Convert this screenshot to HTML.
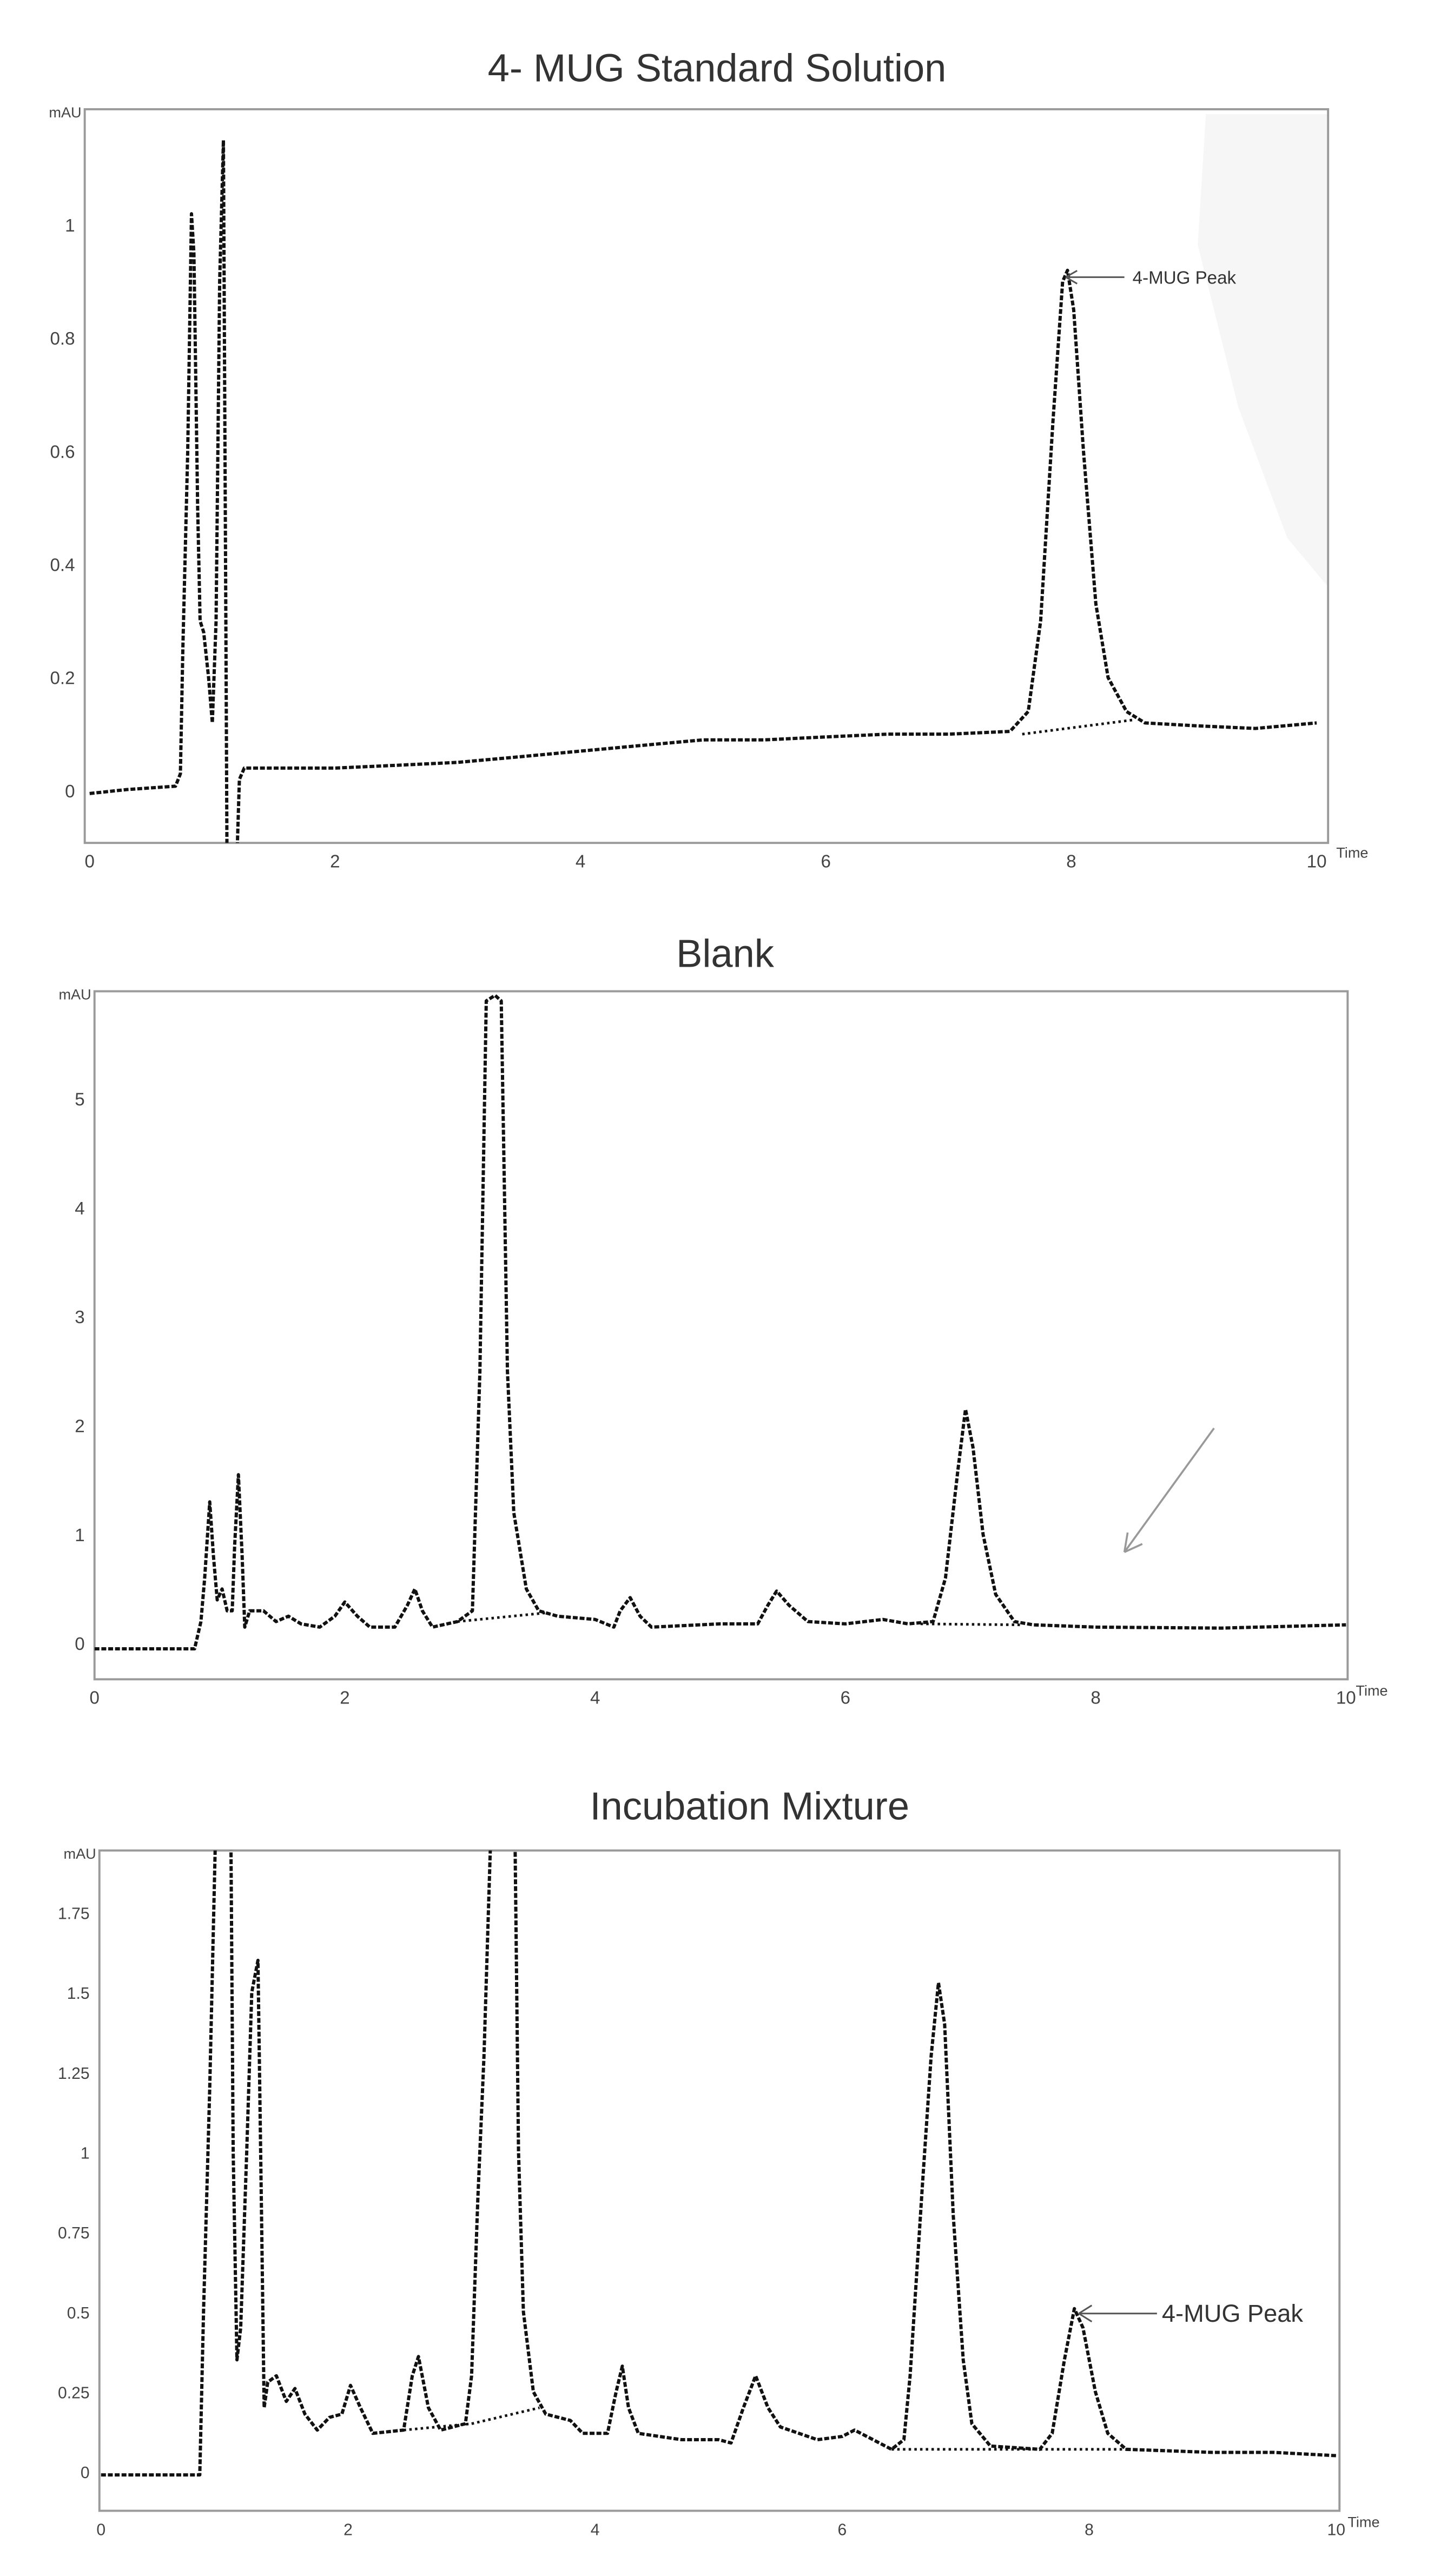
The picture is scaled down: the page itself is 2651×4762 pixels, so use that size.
<!DOCTYPE html>
<html><head><meta charset="utf-8"><title>HPLC chromatograms</title>
<style>
html,body{margin:0;padding:0;background:#fff;}
svg{display:block;}
text{font-family:"Liberation Sans",sans-serif;}
</style></head>
<body>
<svg id="fig" width="2651" height="4762" viewBox="0 0 880 1580" preserveAspectRatio="none" xmlns="http://www.w3.org/2000/svg">
<path d="M740,70 L815,70 L815,360 L790,330 L760,250 L735,150 Z" fill="#f6f6f6"/>
</svg>
<script>
// ---- Panel 1: 4-MUG Standard Solution ----
const p1Times = [0,0.3,0.7,0.74,0.76,0.8,0.83,0.85,0.88,0.9,0.93,0.97,1.0,1.03,1.06,1.09,1.11,1.12,1.2,1.22,1.26,1.5,2,2.5,3,3.5,4,4.5,5,5.5,6,6.5,7,7.5,7.65,7.75,7.85,7.93,7.97,8.02,8.1,8.2,8.3,8.45,8.6,9,9.5,10];
const p1Values = [-0.005,0.002,0.008,0.03,0.25,0.6,1.02,0.95,0.5,0.3,0.28,0.2,0.12,0.3,0.9,1.15,0.3,-0.12,-0.12,0.02,0.04,0.04,0.04,0.045,0.05,0.06,0.07,0.08,0.09,0.09,0.095,0.1,0.1,0.105,0.14,0.3,0.65,0.9,0.92,0.85,0.6,0.33,0.2,0.14,0.12,0.115,0.11,0.12];
const p1BaseTimes = [7.6,8.5];
const p1BaseValues = [0.1,0.125];
const p1YTicks = [0,0.2,0.4,0.6,0.8,1];
const p1YLabels = ["0","0.2","0.4","0.6","0.8","1"];
const p1XTicks = [0,2,4,6,8,10];

// ---- Panel 2: Blank ----
const p2Times = [0,0.8,0.85,0.88,0.92,0.95,0.98,1.02,1.06,1.1,1.12,1.15,1.18,1.2,1.24,1.35,1.45,1.55,1.65,1.8,1.92,2.0,2.1,2.2,2.4,2.5,2.56,2.62,2.7,2.9,3.02,3.08,3.13,3.2,3.25,3.3,3.35,3.45,3.55,3.7,4.0,4.15,4.2,4.28,4.36,4.45,5.0,5.3,5.38,5.45,5.55,5.7,6.0,6.3,6.5,6.7,6.8,6.9,6.96,7.02,7.1,7.2,7.35,7.5,8,9,10];
const p2Values = [-0.05,-0.05,0.2,0.6,1.3,0.8,0.4,0.5,0.3,0.3,0.9,1.55,0.8,0.15,0.3,0.3,0.2,0.25,0.18,0.15,0.25,0.38,0.25,0.15,0.15,0.35,0.5,0.3,0.15,0.2,0.3,2.5,5.9,5.95,5.9,2.5,1.2,0.5,0.3,0.25,0.22,0.15,0.3,0.42,0.25,0.15,0.18,0.18,0.35,0.48,0.35,0.2,0.18,0.22,0.18,0.2,0.6,1.6,2.15,1.8,1.0,0.45,0.2,0.17,0.15,0.14,0.17];
const p2BaseTimes = [2.9,3.6,6.6,7.4];
const p2BaseValues = [0.2,0.28,0.18,0.17];
const p2YTicks = [0,1,2,3,4,5];
const p2YLabels = ["0","1","2","3","4","5"];
const p2XTicks = [0,2,4,6,8,10];

// ---- Panel 3: Incubation Mixture ----
const p3Times = [0,0.8,0.83,0.88,0.93,1.05,1.07,1.1,1.13,1.18,1.22,1.27,1.3,1.32,1.35,1.42,1.5,1.57,1.65,1.75,1.85,1.95,2.02,2.1,2.2,2.45,2.52,2.57,2.65,2.75,2.95,3.0,3.05,3.1,3.16,3.35,3.38,3.42,3.5,3.6,3.8,3.9,4.1,4.17,4.22,4.27,4.35,4.7,5.0,5.1,5.2,5.3,5.4,5.5,5.8,6.0,6.1,6.25,6.4,6.5,6.55,6.65,6.72,6.78,6.83,6.9,6.98,7.05,7.2,7.6,7.7,7.8,7.88,7.95,8.05,8.15,8.3,9,9.5,10];
const p3Values = [-0.01,-0.01,0.5,1.2,2.05,2.05,1.0,0.35,0.45,1.0,1.5,1.6,0.8,0.2,0.28,0.3,0.22,0.26,0.18,0.13,0.17,0.18,0.27,0.2,0.12,0.13,0.3,0.36,0.2,0.13,0.15,0.3,0.85,1.3,2.05,2.05,1.0,0.5,0.25,0.18,0.16,0.12,0.12,0.25,0.33,0.2,0.12,0.1,0.1,0.09,0.2,0.3,0.2,0.14,0.1,0.11,0.13,0.1,0.07,0.1,0.3,0.9,1.3,1.53,1.4,0.8,0.35,0.15,0.08,0.07,0.12,0.35,0.51,0.45,0.25,0.12,0.07,0.06,0.06,0.05];
const p3BaseTimes = [2.45,3.0,3.0,3.55,6.4,8.3];
const p3BaseValues = [0.13,0.15,0.15,0.2,0.07,0.07];
const p3YTicks = [0,0.25,0.5,0.75,1,1.25,1.5,1.75];
const p3YLabels = ["0","0.25","0.5","0.75","1","1.25","1.5","1.75"];
const p3XTicks = [0,2,4,6,8,10];

const NS = "http://www.w3.org/2000/svg";
const svg = document.getElementById('fig');
function mk(tag, attrs, parent){
  const e = document.createElementNS(NS, tag);
  for (const k in attrs) e.setAttribute(k, attrs[k]);
  (parent||svg).appendChild(e);
  return e;
}

function panel(cfg){
  const g = mk('g', {});
  
  
  const xs = t => cfg.x0 + (t - 0) * (cfg.x10 - cfg.x0) / 10;
  const ys = v => cfg.yZero - v * cfg.yPerUnit;
  const t = mk('text', {x: cfg.titleX, y: cfg.titleY, 'font-size': 24, fill: '#333', 'text-anchor': 'middle'}, g);
  t.textContent = cfg.title;
  
  
  const f = mk('rect', {x: cfg.L, y: cfg.T, width: cfg.R - cfg.L, height: cfg.B - cfg.T, fill: 'none', stroke: '#9a9a9a', 'stroke-width': 1.3}, g);
  
  
  const u = mk('text', {x: cfg.L - 2, y: cfg.T + 5, 'font-size': 9, fill: '#444', 'text-anchor': 'end'}, g);
  u.textContent = cfg.unit;
  
  
  cfg.yTicks.forEach((v, i) => {
    const tx = mk('text', {x: cfg.L - 6, y: ys(v) + 4, 'font-size': cfg.tickSize, fill: '#444', 'text-anchor': 'end'}, g);
    tx.textContent = cfg.yLabels[i];
    
    
  });
  cfg.xTicks.forEach(v => {
    const tx = mk('text', {x: xs(v), y: cfg.B + 15, 'font-size': cfg.tickSize, fill: '#444', 'text-anchor': 'middle'}, g);
    tx.textContent = String(v);
    
    
  });
  const tl = mk('text', {x: cfg.R + 5, y: cfg.timeY, 'font-size': 9, fill: '#444'}, g);
  tl.textContent = 'Time';
  
  
  const cid = 'clip-' + cfg.name;
  const cp = mk('clipPath', {id: cid}, g);
  mk('rect', {x: cfg.L, y: cfg.T, width: cfg.R - cfg.L, height: cfg.B - cfg.T}, cp);
  let d = '';
  cfg.bt.forEach((tt, i) => { d += (i % 2 ? 'L' : 'M') + xs(tt).toFixed(1) + ',' + ys(cfg.bv[i]).toFixed(1); });
  const bl = mk('path', {d: d, fill: 'none', stroke: '#111', 'stroke-width': 1.6, 'stroke-dasharray': '1.5 2', 'clip-path': 'url(#' + cid + ')'}, g);
  
  
  const pts = cfg.times.map((tt, i) => xs(tt).toFixed(1) + ',' + ys(cfg.values[i]).toFixed(1)).join(' ');
  const tr = mk('polyline', {points: pts, fill: 'none', stroke: '#111', 'stroke-width': 2, 'stroke-dasharray': '3 1.2', 'stroke-linejoin': 'round', 'clip-path': 'url(#' + cid + ')'}, g);
  
  
  return g;
}

panel({name:'standard-solution-panel', title:'4- MUG Standard Solution', titleX:440, titleY:50, L:52, T:67, R:815, B:517, x0:55, x10:808, yZero:485, yPerUnit:347, unit:'mAU', tickSize:11, timeY:526, yTicks:p1YTicks, yLabels:p1YLabels, xTicks:p1XTicks, times:p1Times, values:p1Values, bt:p1BaseTimes, bv:p1BaseValues});
panel({name:'blank-panel', title:'Blank', titleX:445, titleY:593, L:58, T:608, R:827, B:1030, x0:58, x10:826, yZero:1008, yPerUnit:66.8, unit:'mAU', tickSize:11, timeY:1040, yTicks:p2YTicks, yLabels:p2YLabels, xTicks:p2XTicks, times:p2Times, values:p2Values, bt:p2BaseTimes, bv:p2BaseValues});
panel({name:'incubation-mixture-panel', title:'Incubation Mixture', titleX:460, titleY:1116, L:61, T:1135, R:822, B:1540, x0:62, x10:820, yZero:1516, yPerUnit:196, unit:'mAU', tickSize:10, timeY:1550, yTicks:p3YTicks, yLabels:p3YLabels, xTicks:p3XTicks, times:p3Times, values:p3Values, bt:p3BaseTimes, bv:p3BaseValues});

// annotations
const a1 = mk('g', {});


mk('path', {d:'M654,170 L690,170 M654,170 L661,166 M654,170 L661,174', stroke:'#555', 'stroke-width':1, fill:'none'}, a1);
const a1t = mk('text', {x:695, y:174, 'font-size':11, fill:'#333'}, a1);
a1t.textContent = '4-MUG Peak';

const a2 = mk('path', {d:'M745,876 L690,952 M690,952 L692,940 M690,952 L701,947', stroke:'#999', 'stroke-width':1.2, fill:'none'});



const a3 = mk('g', {});


mk('path', {d:'M662,1419 L710,1419 M662,1419 L670,1414 M662,1419 L670,1424', stroke:'#555', 'stroke-width':1, fill:'none'}, a3);
const a3t = mk('text', {x:713, y:1424, 'font-size':15, fill:'#333'}, a3);
a3t.textContent = '4-MUG Peak';
</script>
</body></html>
